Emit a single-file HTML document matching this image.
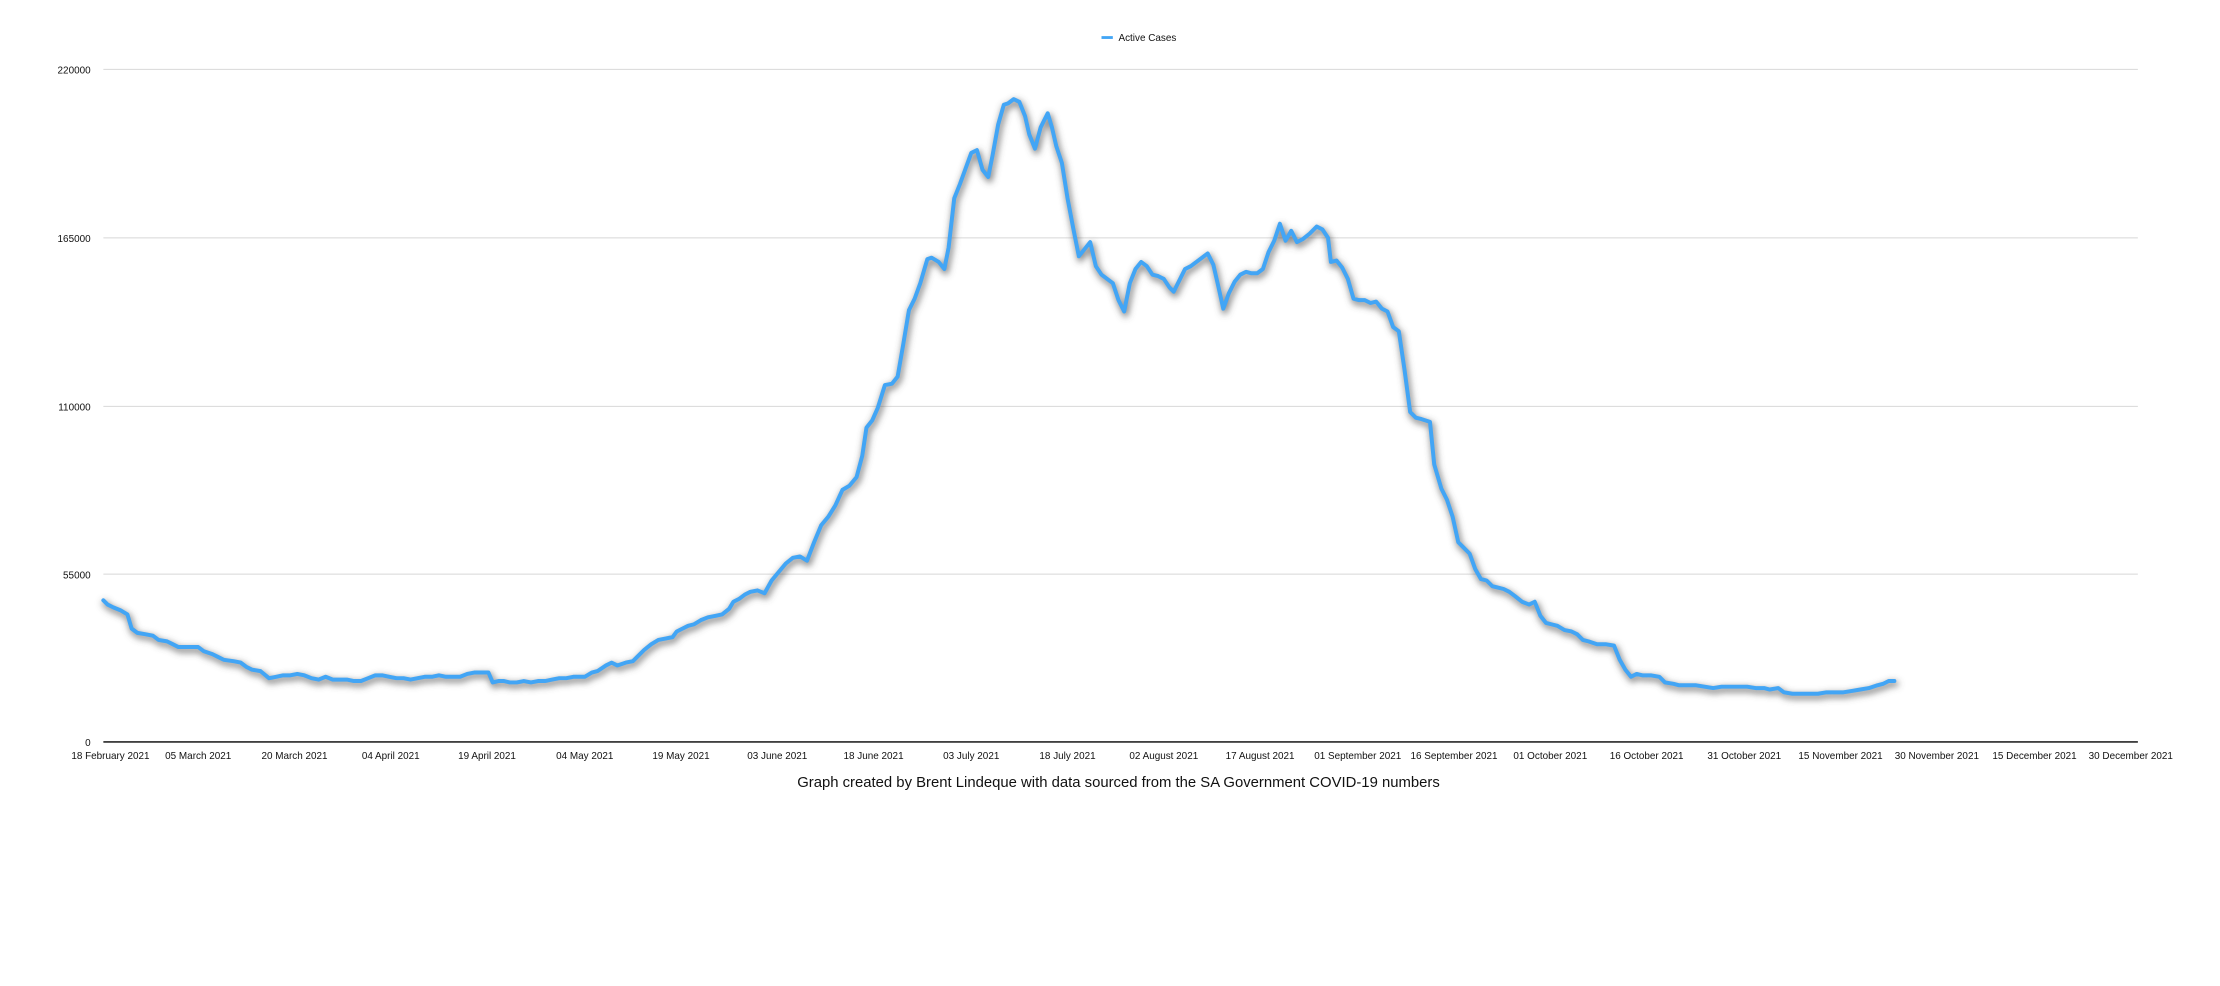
<!DOCTYPE html>
<html><head><meta charset="utf-8"><style>
html,body{margin:0;padding:0;background:#fff;width:2220px;height:986px;overflow:hidden}
svg{display:block}
text{font-family:"Liberation Sans",Arial,sans-serif;fill:#111}
</style></head><body>
<svg width="2220" height="986" viewBox="0 0 1568 696.4" xmlns="http://www.w3.org/2000/svg">
<defs><filter id="sh" x="-10%" y="-10%" width="120%" height="120%"><feGaussianBlur stdDeviation="2.5"/></filter>
<polyline id="p" points="73,424 76,427 80,429 85,431 90,434 93,444 97,447 103,448 108,449 112,452 118,453 122,455 126,457 134,457 140,457 144,460 150,462 154,464 158,466 165,467 170,468 174,471 178,473 184,474 190,479 195,478 200,477 205,477 210,476 215,477 220,479 225,480 230,478 235,480 240,480 245,480 250,481 255,481 260,479 265,477 270,477 275,478 280,479 285,479 290,480 295,479 300,478 305,478 310,477 315,478 320,478 325,478 330,476 335,475 340,475 345,475 348,482 352,481 356,481 360,482 365,482 370,481 375,482 380,481 385,481 390,480 395,479 400,479 405,478 410,478 413,478 418,475 422,474 428,470 432,468 436,470 442,468 447,467 450,464 455,459 460,455 465,452 470,451 475,450 478,446 482,444 486,442 490,441 495,438 500,436 505,435 510,434 515,430 518,425 522,423 526,420 530,418 535,417 540,419 545,410 550,404 555,398 560,394 565,393 570,396 575,383 580,371 585,365 590,357 595,346 600,343 605,337 609,322 612,302 616,297 620,288 625,272 630,271 634,266 638,243 642,219 646,211 650,200 655,183 658,182 663,185 667,190 670,175 674,140 678,130 682,119 686,108 690,106 694,120 698,125 701,110 705,88 709,74 712,73 716,70 720,72 724,82 727,95 731,105 735,90 740,80 743,90 746,103 750,115 754,140 758,161 762,181 766,176 770,171 774,188 778,194 782,197 786,200 790,212 794,220 798,200 802,190 806,185 810,188 814,194 818,195 822,197 826,203 829,206 833,198 837,190 841,188 845,185 849,182 853,179 857,187 860,200 864,218 868,207 872,199 876,194 880,192 884,193 888,193 892,190 896,178 900,170 904,158 908,170 912,163 916,171 920,169 925,165 930,160 934,162 938,168 940,185 944,184 948,189 952,197 956,211 960,212 964,212 968,214 972,213 976,218 980,220 984,231 988,234 992,261 996,291 1000,295 1004,296 1010,298 1013,328 1018,345 1022,353 1026,365 1030,383 1034,387 1038,391 1042,402 1046,409 1050,410 1054,414 1058,415 1062,416 1066,418 1070,421 1075,425 1080,427 1084,425 1088,435 1092,440 1096,441 1100,442 1105,445 1110,446 1114,448 1118,452 1122,453 1128,455 1134,455 1140,456 1144,466 1148,473 1152,478 1156,476 1160,477 1166,477 1172,478 1176,482 1182,483 1186,484 1192,484 1198,484 1204,485 1210,486 1216,485 1222,485 1228,485 1234,485 1240,486 1246,486 1250,487 1256,486 1260,489 1266,490 1272,490 1278,490 1284,490 1290,489 1296,489 1302,489 1308,488 1314,487 1320,486 1326,484 1330,483 1334,481 1338,481"/>
</defs>
<g stroke="#d8d8d8" stroke-width="0.7">
<line x1="73" y1="49" x2="1510" y2="49"/>
<line x1="73" y1="168" x2="1510" y2="168"/>
<line x1="73" y1="287" x2="1510" y2="287"/>
<line x1="73" y1="405.5" x2="1510" y2="405.5"/>
</g>
<line x1="73" y1="524" x2="1510" y2="524" stroke="#000" stroke-width="1"/>
<g font-size="7" text-anchor="end">
<text x="64" y="52">220000</text><text x="64" y="171">165000</text><text x="64" y="290">110000</text><text x="64" y="408.5">55000</text><text x="64" y="527">0</text>
</g>
<g font-size="7" text-anchor="middle">
<text x="78" y="536">18 February 2021</text><text x="140" y="536">05 March 2021</text><text x="208" y="536">20 March 2021</text><text x="276" y="536">04 April 2021</text><text x="344" y="536">19 April 2021</text><text x="413" y="536">04 May 2021</text><text x="481" y="536">19 May 2021</text><text x="549" y="536">03 June 2021</text><text x="617" y="536">18 June 2021</text><text x="686" y="536">03 July 2021</text><text x="754" y="536">18 July 2021</text><text x="822" y="536">02 August 2021</text><text x="890" y="536">17 August 2021</text><text x="959" y="536">01 September 2021</text><text x="1027" y="536">16 September 2021</text><text x="1095" y="536">01 October 2021</text><text x="1163" y="536">16 October 2021</text><text x="1232" y="536">31 October 2021</text><text x="1300" y="536">15 November 2021</text><text x="1368" y="536">30 November 2021</text><text x="1437" y="536">15 December 2021</text><text x="1505" y="536">30 December 2021</text>
</g>
<text x="790" y="556" font-size="10.5" text-anchor="middle">Graph created by Brent Lindeque with data sourced from the SA Government COVID-19 numbers</text>
<line x1="778" y1="26.5" x2="786" y2="26.5" stroke="#42a5f5" stroke-width="2"/>
<text x="790" y="29" font-size="7">Active Cases</text>
<g fill="none" stroke-linejoin="round" stroke-linecap="round">
<use href="#p" filter="url(#sh)" stroke="#555" stroke-opacity="0.7" stroke-width="4" transform="translate(1,2)"/>
<use href="#p" stroke="#42a5f5" stroke-width="2.8"/>
</g>
</svg>
</body></html>
